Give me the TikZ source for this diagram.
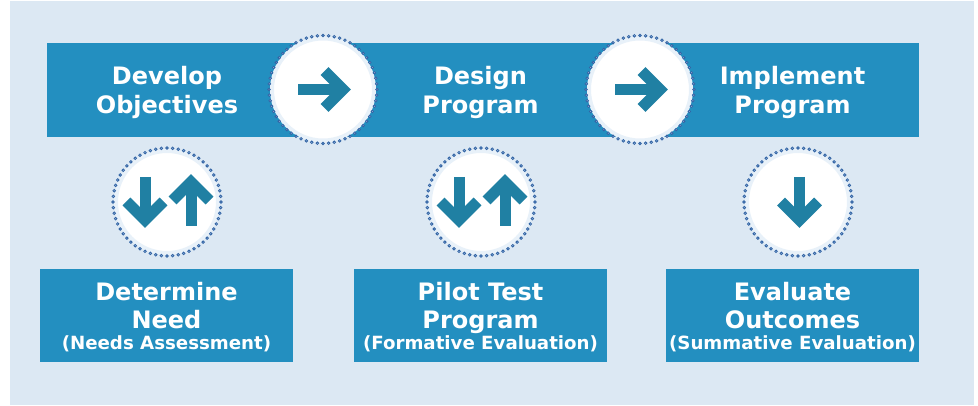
\documentclass[tikz,border=0pt]{standalone}
\usepackage{fontspec}
\setmainfont{DejaVu Sans}
\definecolor{panel}{RGB}{220,232,243}
\definecolor{boxblue}{RGB}{35,143,192}
\definecolor{arrowblue}{RGB}{32,128,163}
\definecolor{halo}{RGB}{232,241,249}
\definecolor{dotline}{RGB}{50,100,165}
\definecolor{dotfill}{RGB}{175,200,230}
\tikzset{
  titletext/.style={text=white, font=\bfseries\fontsize{24}{28}\selectfont, anchor=base, inner sep=0pt},
  stext/.style={text=white, font=\bfseries\fontsize{18.2}{22}\selectfont, anchor=base, inner sep=0pt},
  bbox/.style={fill=boxblue, minimum width=253pt, minimum height=93pt, inner sep=0pt},
  wcirc/.style={circle, fill=white, draw=halo, line width=4pt, minimum size=102pt, inner sep=0pt},
  arr/.style={draw=arrowblue, line width=11pt, miter limit=10, line join=miter, line cap=butt},
  dotring/.style={draw=dotline, fill=dotfill, line width=0.8pt},
  pics/rarrow/.style={code={
    \draw[arr] (-25,0) -- (19,0);
    \draw[arr] (1.5,-18.5) -- (20,0) -- (1.5,18.5);}},
  pics/darrow/.style={code={
    \draw[arr] (0,-25) -- (0,17);
    \draw[arr] (-18.5,-0.5) -- (0,18) -- (18.5,-0.5);}},
  pics/uarrow/.style={code={
    \draw[arr] (0,24) -- (0,-19);
    \draw[arr] (-18.5,-1.5) -- (0,-20) -- (18.5,-1.5);}}
}
\newcommand{\dotsround}[1]{%
  \foreach \a in {0,6,...,354} {\filldraw[dotring] ([shift={(\a:54)}]#1.center) circle (1.3);}}
\begin{document}
\begin{tikzpicture}[x=1pt,y=-1pt]
\useasboundingbox (0,0) rectangle (978,406);
\fill[white] (0,0) rectangle (978,406);
\fill[panel] (10,1) rectangle (974,405);
% top bar
\fill[boxblue] (47,43) rectangle (919,137);
\node[titletext] (dev1) at (167,84.5) {Develop};
\node[titletext] (dev2) at (167,113.5) {Objectives};
\node[titletext] (des1) at (480.5,84.5) {Design};
\node[titletext] (des2) at (480.5,113.5) {Program};
\node[titletext] (imp1) at (792.5,84.5) {Implement};
\node[titletext] (imp2) at (792.5,113.5) {Program};
% bottom boxes
\node[bbox] (need) at (166.5,315.5) {};
\node[bbox] (pilot) at (480.5,315.5) {};
\node[bbox] (eval) at (792.5,315.5) {};
\node[titletext] (need1) at (166.5,300.5) {Determine};
\node[titletext] (need2) at (166.5,328) {Need};
\node[stext] (need3) at (166.5,349.5) {(Needs Assessment)};
\node[titletext] (pilot1) at (480.5,300.5) {Pilot Test};
\node[titletext] (pilot2) at (480.5,328) {Program};
\node[stext] (pilot3) at (480.5,349.5) {(Formative Evaluation)};
\node[titletext] (eval1) at (792.5,300.5) {Evaluate};
\node[titletext] (eval2) at (792.5,328) {Outcomes};
\node[stext] (eval3) at (792.5,349.5) {(Summative Evaluation)};
% circles
\node[wcirc] (c1) at (323,89.5) {};
\node[wcirc] (c2) at (640,89.5) {};
\node[wcirc] (c3) at (167,202) {};
\node[wcirc] (c4) at (481,202) {};
\node[wcirc] (c5) at (798,202) {};
\dotsround{c1}\dotsround{c2}\dotsround{c3}\dotsround{c4}\dotsround{c5}
% arrows
\pic at (c1.center) {rarrow};
\pic at (c2.center) {rarrow};
\pic at ([shift={(-22,0)}]c3.center) {darrow};
\pic at ([shift={(24,0)}]c3.center) {uarrow};
\pic at ([shift={(-22,0)}]c4.center) {darrow};
\pic at ([shift={(24,0)}]c4.center) {uarrow};
\pic at ([shift={(1.5,0)}]c5.center) {darrow};
\end{tikzpicture}
\end{document}
